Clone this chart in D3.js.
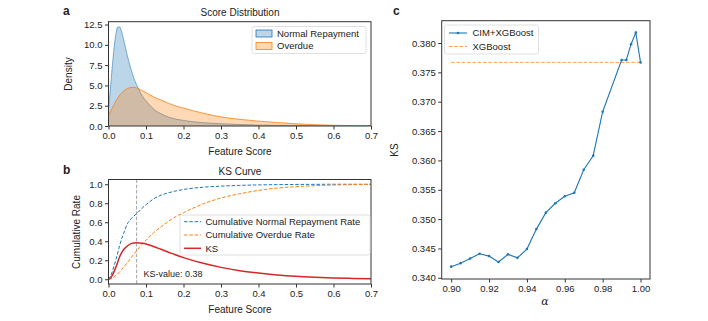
<!DOCTYPE html>
<html>
<head>
<meta charset="utf-8">
<script src="https://cdn.jsdelivr.net/npm/d3@7"></script>
<style>
body { margin: 0; background: #fff; }
text { font-family: "Liberation Sans", Arial, sans-serif; fill: #222; }
</style>
</head>
<body>
<script>
// Data, panel a (density of feature score)
var scoreX      = [0, 0.005, 0.01, 0.015, 0.02, 0.025, 0.03, 0.035, 0.04, 0.05, 0.06, 0.07, 0.08, 0.09, 0.1, 0.12, 0.14, 0.16, 0.18, 0.2, 0.25, 0.3, 0.35, 0.4, 0.45, 0.5, 0.55, 0.6, 0.65, 0.7];
var densNormal  = [2.0, 4.6, 7.3, 9.7, 11.4, 12.2, 12.2, 11.6, 10.7, 8.7, 7.0, 5.6, 4.6, 3.7, 3.1, 2.1, 1.5, 1.1, 0.85, 0.68, 0.42, 0.28, 0.18, 0.12, 0.08, 0.05, 0.03, 0.02, 0.015, 0.01];
var densOverdue = [1.3, 1.75, 2.2, 2.65, 3.1, 3.45, 3.8, 4.05, 4.3, 4.6, 4.75, 4.75, 4.6, 4.35, 4.1, 3.6, 3.2, 2.8, 2.45, 2.2, 1.6, 1.12, 0.82, 0.6, 0.42, 0.27, 0.16, 0.09, 0.05, 0.03];

// Data, panel b (cumulative rates + KS)
var cdfX       = [0, 0.005, 0.01, 0.02, 0.03, 0.04, 0.05, 0.06, 0.075, 0.09, 0.1, 0.12, 0.14, 0.16, 0.18, 0.2, 0.25, 0.3, 0.35, 0.4, 0.45, 0.5, 0.55, 0.6, 0.65, 0.7];
var cdfNormal  = [0, 0.03, 0.08, 0.21, 0.36, 0.48, 0.58, 0.635, 0.69, 0.75, 0.785, 0.845, 0.885, 0.91, 0.93, 0.945, 0.968, 0.98, 0.988, 0.993, 0.996, 0.998, 0.999, 1.0, 1.0, 1.0];
var cdfOverdue = [0, 0.005, 0.015, 0.04, 0.08, 0.125, 0.175, 0.225, 0.30, 0.37, 0.41, 0.49, 0.55, 0.61, 0.66, 0.70, 0.79, 0.855, 0.90, 0.935, 0.96, 0.975, 0.985, 0.992, 0.996, 0.998];
var ksCurve    = [0, 0.01, 0.04, 0.13, 0.24, 0.31, 0.35, 0.375, 0.385, 0.38, 0.372, 0.345, 0.315, 0.285, 0.255, 0.228, 0.17, 0.125, 0.09, 0.065, 0.046, 0.032, 0.022, 0.014, 0.009, 0.005];
var ksAt = 0.075;
var ksText = "KS-value: 0.38";

// Data, panel c (KS vs alpha)
var alphaVals = [0.900, 0.905, 0.910, 0.915, 0.920, 0.925, 0.930, 0.935, 0.940, 0.945, 0.950, 0.955, 0.960, 0.965, 0.970, 0.975, 0.980, 0.990, 0.9925, 0.995, 0.9975, 1.000];
var ksCim     = [0.3419, 0.3425, 0.3433, 0.3441, 0.3437, 0.3427, 0.3440, 0.3434, 0.3449, 0.3483, 0.3511, 0.3527, 0.3539, 0.3545, 0.3584, 0.3608, 0.3683, 0.3771, 0.3771, 0.3798, 0.3818, 0.3767];
var ksXgb = 0.3767;

var blue = "#1f77b4", orange = "#ff7f0e", red = "#d62728";

var svg = d3.select("body").append("svg")
    .attr("width", 708)
    .attr("height", 321);

// helpers
function frame(x0, x1, y0, y1) {
    svg.append("rect")
        .attr("x", x0).attr("y", y1)
        .attr("width", x1 - x0).attr("height", y0 - y1)
        .attr("fill", "none")
        .attr("stroke", "#333")
        .attr("stroke-width", 1);
}
function styleAxis(g) {
    g.select(".domain").remove();
    g.selectAll(".tick line").attr("stroke", "#333");
    g.selectAll(".tick text").style("font-size", "9.5px").attr("fill", "#222");
}
function legendBox(x, y, w, h) {
    svg.append("rect")
        .attr("x", x).attr("y", y).attr("width", w).attr("height", h)
        .attr("rx", 2)
        .attr("fill", "#fff").attr("fill-opacity", 0.8)
        .attr("stroke", "#d8d8d8").attr("stroke-width", 0.8);
}
function label(x, y, txt, size, anchor, rot) {
    var t = svg.append("text")
        .attr("x", x).attr("y", y)
        .attr("text-anchor", anchor || "middle")
        .style("font-size", size + "px")
        .text(txt);
    if (rot) t.attr("transform", "rotate(-90," + x + "," + y + ")");
    return t;
}

// ---------- Panel a ----------
var xA = d3.scaleLinear().domain([0, 0.7]).range([108.5, 371]);
var yA = d3.scaleLinear().domain([0, 12.85]).range([126, 21.7]);

svg.append("defs").append("clipPath").attr("id", "clipA")
    .append("rect").attr("x", 108.5).attr("y", 21.7).attr("width", 262.5).attr("height", 104.3);

var areaA = function(vals) {
    return d3.area()
        .x(function(d, i) { return xA(scoreX[i]); })
        .y0(yA(0))
        .y1(function(d) { return yA(d); })
        .curve(d3.curveMonotoneX)(vals);
};
var lineA = function(vals) {
    return d3.line()
        .x(function(d, i) { return xA(scoreX[i]); })
        .y(function(d) { return yA(d); })
        .curve(d3.curveMonotoneX)(vals);
};
var gA = svg.append("g").attr("clip-path", "url(#clipA)");
gA.append("path").attr("d", areaA(densNormal)).attr("fill", blue).attr("fill-opacity", 0.3);
gA.append("path").attr("d", lineA(densNormal)).attr("fill", "none").attr("stroke", blue).attr("stroke-width", 0.8).attr("stroke-opacity", 0.7);
gA.append("path").attr("d", areaA(densOverdue)).attr("fill", orange).attr("fill-opacity", 0.3);
gA.append("path").attr("d", lineA(densOverdue)).attr("fill", "none").attr("stroke", orange).attr("stroke-width", 1).attr("stroke-opacity", 0.8);

svg.append("g").attr("transform", "translate(0,126)")
    .call(d3.axisBottom(xA).tickValues(d3.range(0, 0.71, 0.1)).tickFormat(d3.format(".1f")).tickSize(3.5).tickPadding(2.5))
    .call(styleAxis);
svg.append("g").attr("transform", "translate(108.5,0)")
    .call(d3.axisLeft(yA).tickValues([0, 2.5, 5, 7.5, 10, 12.5]).tickFormat(d3.format(".1f")).tickSize(3.5).tickPadding(2.5))
    .call(styleAxis);
frame(108.5, 371, 126, 21.7);

label(240, 16, "Score Distribution", 10);
label(240, 155, "Feature Score", 10);
label(72, 74, "Density", 10, "middle", true);
label(63, 15, "a", 12).attr("text-anchor", "start").style("font-weight", "bold");

// legend a
legendBox(252, 26.5, 114, 27);
[["Normal Repayment", blue], ["Overdue", orange]].forEach(function(d, i) {
    var yy = 33.5 + i * 12.5;
    svg.append("rect").attr("x", 256).attr("y", yy - 3.5).attr("width", 16).attr("height", 7)
        .attr("fill", d[1]).attr("fill-opacity", 0.3).attr("stroke", d[1]).attr("stroke-width", 0.8);
    label(277, yy + 3.3, d[0], 9.5, "start");
});

// ---------- Panel b ----------
var xB = d3.scaleLinear().domain([0, 0.7]).range([108.5, 371]);
var yB = d3.scaleLinear().domain([-0.05, 1.05]).range([284, 179.5]);

svg.append("defs").append("clipPath").attr("id", "clipB")
    .append("rect").attr("x", 108.5).attr("y", 179.5).attr("width", 262.5).attr("height", 104.5);

var lineB = function(vals) {
    return d3.line()
        .x(function(d, i) { return xB(cdfX[i]); })
        .y(function(d) { return yB(d); })
        .curve(d3.curveMonotoneX)(vals);
};
var gB = svg.append("g").attr("clip-path", "url(#clipB)");
gB.append("line")
    .attr("x1", xB(ksAt)).attr("x2", xB(ksAt))
    .attr("y1", 179.5).attr("y2", 284)
    .attr("stroke", "#999").attr("stroke-width", 0.9).attr("stroke-dasharray", "3.5,1.8");
gB.append("path").attr("d", lineB(cdfNormal)).attr("fill", "none").attr("stroke", blue).attr("stroke-width", 1).attr("stroke-dasharray", "3.5,1.8");
gB.append("path").attr("d", lineB(cdfOverdue)).attr("fill", "none").attr("stroke", orange).attr("stroke-width", 1).attr("stroke-dasharray", "3.5,1.8");
gB.append("path").attr("d", lineB(ksCurve)).attr("fill", "none").attr("stroke", red).attr("stroke-width", 1.5);

svg.append("g").attr("transform", "translate(0,284)")
    .call(d3.axisBottom(xB).tickValues(d3.range(0, 0.71, 0.1)).tickFormat(d3.format(".1f")).tickSize(3.5).tickPadding(2.5))
    .call(styleAxis);
svg.append("g").attr("transform", "translate(108.5,0)")
    .call(d3.axisLeft(yB).tickValues([0, 0.2, 0.4, 0.6, 0.8, 1.0]).tickFormat(d3.format(".1f")).tickSize(3.5).tickPadding(2.5))
    .call(styleAxis);
frame(108.5, 371, 284, 179.5);

label(240, 175, "KS Curve", 10);
label(240, 313, "Feature Score", 10);
label(80, 232, "Cumulative Rate", 10, "middle", true);
label(63, 174, "b", 12).attr("text-anchor", "start").style("font-weight", "bold");
label(xB(0.093), yB(0.025), ksText, 9, "start");

// legend b
legendBox(180, 215, 190, 40);
[["Cumulative Normal Repayment Rate", blue, true], ["Cumulative Overdue Rate", orange, true], ["KS", red, false]].forEach(function(d, i) {
    var yy = 221.7 + i * 13.3;
    svg.append("line").attr("x1", 184).attr("x2", 201).attr("y1", yy).attr("y2", yy)
        .attr("stroke", d[1]).attr("stroke-width", d[2] ? 1 : 1.5)
        .attr("stroke-dasharray", d[2] ? "3.5,1.8" : null);
    label(205.5, yy + 3.3, d[0], 9.5, "start");
});

// ---------- Panel c ----------
var xC = d3.scaleLinear().domain([0.895, 1.005]).range([441.7, 650]);
var yC = d3.scaleLinear().domain([0.3398, 0.3838]).range([279, 20.7]);

svg.append("line")
    .attr("x1", xC(0.9)).attr("x2", xC(1.0))
    .attr("y1", yC(ksXgb)).attr("y2", yC(ksXgb))
    .attr("stroke", orange).attr("stroke-opacity", 0.75).attr("stroke-width", 1).attr("stroke-dasharray", "3.5,1.8");

var lineC = d3.line()
    .x(function(d, i) { return xC(alphaVals[i]); })
    .y(function(d) { return yC(d); });
svg.append("path").attr("d", lineC(ksCim)).attr("fill", "none").attr("stroke", blue).attr("stroke-width", 1.1);
svg.selectAll(".ptC")
    .data(ksCim)
    .enter()
    .append("circle")
    .attr("class", "ptC")
    .attr("cx", function(d, i) { return xC(alphaVals[i]); })
    .attr("cy", function(d) { return yC(d); })
    .attr("r", 1.3)
    .attr("fill", blue);

svg.append("g").attr("transform", "translate(0,279)")
    .call(d3.axisBottom(xC).tickValues([0.90, 0.92, 0.94, 0.96, 0.98, 1.00]).tickFormat(d3.format(".2f")).tickSize(3.5).tickPadding(2.5))
    .call(styleAxis);
svg.append("g").attr("transform", "translate(441.7,0)")
    .call(d3.axisLeft(yC).tickValues([0.340, 0.345, 0.350, 0.355, 0.360, 0.365, 0.370, 0.375, 0.380]).tickFormat(d3.format(".3f")).tickSize(3.5).tickPadding(2.5))
    .call(styleAxis);
frame(441.7, 650, 279, 20.7);

label(398, 150, "KS", 10, "middle", true);
label(545, 305, "\u03b1", 11).style("font-style", "italic").style("font-family", "DejaVu Serif, serif");
label(393, 15, "c", 12).attr("text-anchor", "start").style("font-weight", "bold");

// legend c
legendBox(444.5, 25, 94, 29);
svg.append("line").attr("x1", 449).attr("x2", 467).attr("y1", 33).attr("y2", 33).attr("stroke", blue).attr("stroke-width", 1.1);
svg.append("circle").attr("cx", 458).attr("cy", 33).attr("r", 1.3).attr("fill", blue);
label(472.5, 36.3, "CIM+XGBoost", 9.5, "start");
svg.append("line").attr("x1", 449).attr("x2", 467).attr("y1", 46.5).attr("y2", 46.5)
    .attr("stroke", orange).attr("stroke-opacity", 0.75).attr("stroke-width", 1).attr("stroke-dasharray", "3.5,1.8");
label(472.5, 49.8, "XGBoost", 9.5, "start");
</script>
</body>
</html>
